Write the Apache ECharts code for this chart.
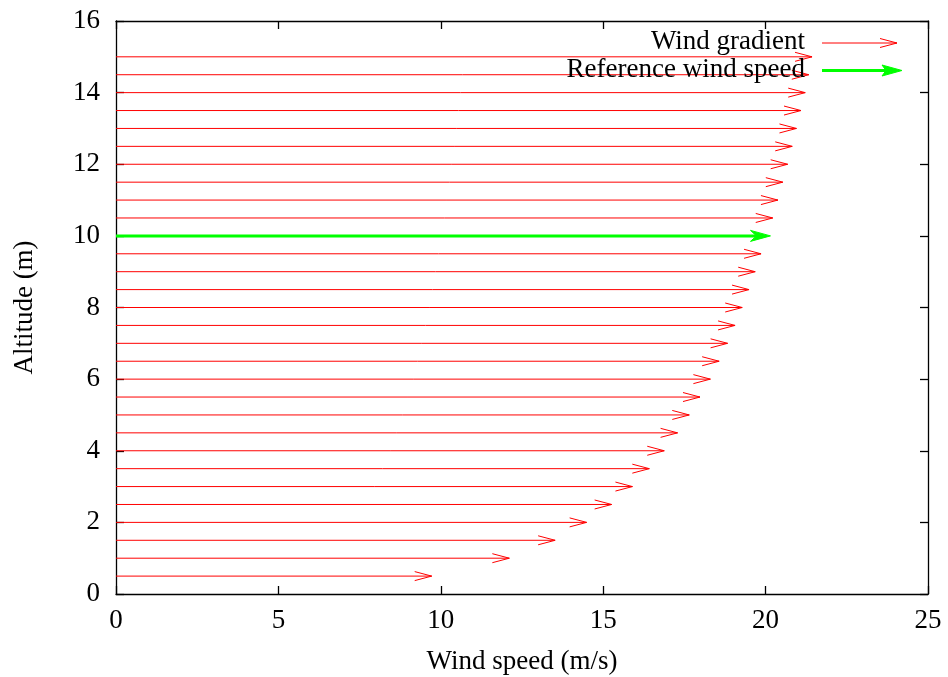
<!DOCTYPE html>
<html>
<head>
<meta charset="utf-8">
<script src="https://cdn.jsdelivr.net/npm/echarts@6/dist/echarts.min.js"></script>
<style>html,body{margin:0;padding:0;background:#fff}#c{width:948px;height:677px}</style>
</head>
<body>
<div id="c"></div>
<script>
// Data
var altitudes = [0.5, 1, 1.5, 2, 2.5, 3, 3.5, 4, 4.5, 5, 5.5, 6, 6.5, 7, 7.5, 8, 8.5, 9, 9.5,
                 10.5, 11, 11.5, 12, 12.5, 13, 13.5, 14, 14.5, 15];
var windSpeeds = [9.72, 12.11, 13.52, 14.49, 15.26, 15.9, 16.42, 16.88, 17.29, 17.65, 17.98, 18.3, 18.57, 18.83, 19.06, 19.28, 19.49, 19.68, 19.86,
                  20.22, 20.38, 20.53, 20.68, 20.82, 20.95, 21.09, 21.22, 21.33, 21.43];
var refAltitude = [10];
var refSpeed = [20.15];
var xTicks = [0, 5, 10, 15, 20, 25];
var yTicks = [0, 2, 4, 6, 8, 10, 12, 14, 16];
var legendNames = ['Wind gradient', 'Reference wind speed'];

var FONT = 'Liberation Serif';
var gradientData = altitudes.map(function (a, i) { return [windSpeeds[i], a]; });
var refData = refAltitude.map(function (a, i) { return [refSpeed[i], a]; });

function arrowRenderer(color, lw, headLen, headHalf, filled) {
  return function (params, api) {
    var v = api.value(0), h = api.value(1);
    var p0 = api.coord([0, h]);
    var p1 = api.coord([v, h]);
    var shaft = {
      type: 'line',
      shape: { x1: p0[0], y1: p0[1], x2: filled ? p1[0] - headLen * 0.6 : p1[0], y2: p1[1] },
      style: { stroke: color, lineWidth: lw }
    };
    var head;
    if (filled) {
      head = {
        type: 'polygon',
        shape: { points: [[p1[0], p1[1]], [p1[0] - headLen, p1[1] - headHalf], [p1[0] - headLen * 0.7, p1[1]], [p1[0] - headLen, p1[1] + headHalf]] },
        style: { fill: color, stroke: color, lineWidth: 1 }
      };
    } else {
      head = {
        type: 'polyline',
        shape: { points: [[p1[0] - headLen, p1[1] - headHalf], [p1[0], p1[1]], [p1[0] - headLen, p1[1] + headHalf]] },
        style: { stroke: color, lineWidth: 1, fill: null }
      };
    }
    return { type: 'group', children: [shaft, head] };
  };
}

var chart = echarts.init(document.getElementById('c'), null, { renderer: 'canvas' });
function axisCommon() {
  return {
    axisLine: { show: true, onZero: false, lineStyle: { color: '#000', width: 1.3 } },
    axisTick: { show: true, inside: true, length: 8, lineStyle: { color: '#000', width: 1.3 } },
    splitLine: { show: false }
  };
}
var L = 116, T = 21, R = 928, B = 594;
chart.setOption({
  animation: false,
  backgroundColor: '#fff',
  grid: { left: L, top: T, right: 948 - R, bottom: 677 - B, containLabel: false, outerBoundsMode: 'none' },
  xAxis: [
    Object.assign({
      type: 'value', min: 0, max: 25, interval: 5, position: 'bottom',
      name: 'Wind speed (m/s)', nameLocation: 'middle', nameGap: 54,
      nameTextStyle: { fontFamily: FONT, fontSize: 27, color: '#000' },
      axisLabel: { fontFamily: FONT, fontSize: 27, color: '#000', margin: 13 }
    }, axisCommon()),
    Object.assign({
      type: 'value', min: 0, max: 25, interval: 5, position: 'top',
      axisLabel: { show: false }
    }, axisCommon())
  ],
  yAxis: [
    Object.assign({
      type: 'value', min: 0, max: 16, interval: 2, position: 'left',
      name: 'Altitude (m)', nameLocation: 'middle', nameGap: 78, nameRotate: 90,
      nameTextStyle: { fontFamily: FONT, fontSize: 27, color: '#000' },
      axisLabel: { fontFamily: FONT, fontSize: 27, color: '#000', margin: 16 }
    }, axisCommon()),
    Object.assign({
      type: 'value', min: 0, max: 16, interval: 2, position: 'right',
      axisLabel: { show: false }
    }, axisCommon())
  ],
  series: [
    {
      name: legendNames[0], type: 'custom', xAxisIndex: 0, yAxisIndex: 0,
      renderItem: arrowRenderer('#ff0000', 1, 17, 4.5, false),
      data: gradientData, z: 2
    },
    {
      name: legendNames[1], type: 'custom', xAxisIndex: 0, yAxisIndex: 0,
      renderItem: arrowRenderer('#00ff00', 3, 20, 5.5, true),
      data: refData, z: 3
    }
  ],
  graphic: [
    { type: 'text', right: 948 - 805, top: 28, style: { text: legendNames[0], font: '27px "' + FONT + '"', fill: '#000', textAlign: 'right' }, z: 10 },
    { type: 'text', right: 948 - 805, top: 56, style: { text: legendNames[1], font: '27px "' + FONT + '"', fill: '#000', textAlign: 'right' }, z: 10 },
    { type: 'polyline', shape: { points: [[822, 43], [897, 43]] }, style: { stroke: '#ff0000', lineWidth: 1 }, z: 10 },
    { type: 'polyline', shape: { points: [[880, 38.5], [897, 43], [880, 47.5]] }, style: { stroke: '#ff0000', lineWidth: 1, fill: null }, z: 10 },
    { type: 'line', shape: { x1: 822, y1: 70.5, x2: 886, y2: 70.5 }, style: { stroke: '#00ff00', lineWidth: 3 }, z: 10 },
    { type: 'polygon', shape: { points: [[902, 70.5], [882, 65], [886, 70.5], [882, 76]] }, style: { fill: '#00ff00', stroke: '#00ff00', lineWidth: 1 }, z: 10 }
  ]
});
</script>
</body>
</html>
